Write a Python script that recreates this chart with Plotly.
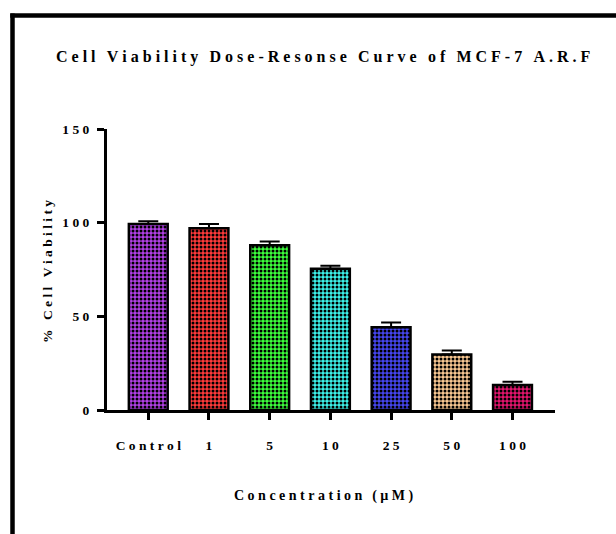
import plotly.graph_objects as go

# Dose-response data (% viability, mean and SD)
concentrations = ["Control", "1", "5", "10", "25", "50", "100"]
viability = [99.3, 97.0, 87.9, 75.4, 44.2, 29.6, 13.4]
viability_sd = [1.4, 2.3, 2.0, 1.6, 2.5, 2.1, 1.7]
bar_colors = ["#B240E6", "#FF3A3A", "#3CFF3C", "#3CF2EA", "#4646F0", "#F9C892", "#E5146E"]
y_ticks = [0, 50, 100, 150]

title_text = "Cell Viability Dose-Resonse Curve of MCF-7 A.R.F"
x_title_text = "Concentration (\u00b5M)"
y_title_text = "% Cell Viability"

LETTER_GAP = "\u00a0"
WORD_GAP = "\u00a0\u00a0\u2009"


def spaced(text, gap=LETTER_GAP, word_gap=WORD_GAP):
    """Widen the tracking of a label by putting fixed spaces between glyphs."""
    words = text.split(" ")
    return word_gap.join(gap.join(w) for w in words)


W, H = 616, 534
ML, MR, MT, MB = 107, 61, 129, 124
PW, PH = W - ML - MR, H - MT - MB


def px_x(px):
    return (px - ML) / PW


def px_y(py):
    return (H - MB - py) / PH


font_family = "Liberation Serif"

fig = go.Figure()
# Checkered bars: black dots over each bar's own background colour
fig.add_trace(go.Bar(
    x=list(range(len(concentrations))),
    y=viability,
    width=0.64,
    marker=dict(
        color="black",
        line=dict(color="black", width=2.5),
        pattern=dict(shape=".", fgcolor="black", fgopacity=1, bgcolor=bar_colors,
                     size=4, solidity=0.45, fillmode="replace"),
    ),
    error_y=dict(type="data", array=viability_sd,
                 arrayminus=[0] * len(viability_sd), symmetric=False,
                 color="black", thickness=2, width=10),
    showlegend=False,
))

tick_font = dict(family=font_family, size=13.5, weight="bold")

fig.update_layout(
    width=W, height=H,
    margin=dict(l=ML, r=MR, t=MT, b=MB, autoexpand=False),
    paper_bgcolor="white", plot_bgcolor="white",
    font=dict(family=font_family, color="black", size=13, weight="bold"),
    xaxis=dict(
        range=[-0.68, 6.7],
        tickmode="array",
        tickvals=list(range(len(concentrations))),
        ticktext=[spaced(c) for c in concentrations],
        showline=True, linecolor="black", linewidth=3,
        ticks="outside", ticklen=7, tickwidth=3, tickcolor="black",
        ticklabelstandoff=14,
        showgrid=False, zeroline=False,
        tickfont=tick_font,
        fixedrange=True,
    ),
    yaxis=dict(
        range=[0, 150],
        tickmode="array",
        tickvals=y_ticks,
        ticktext=[spaced(str(v)) for v in y_ticks],
        showline=True, linecolor="black", linewidth=3,
        ticks="outside", ticklen=7, tickwidth=3, tickcolor="black",
        ticklabelstandoff=5,
        showgrid=False, zeroline=False,
        tickfont=tick_font,
        fixedrange=True,
    ),
    annotations=[
        dict(text=spaced(title_text), xref="paper", yref="paper",
             x=px_x(323), y=px_y(57), xanchor="center", yanchor="middle",
             showarrow=False, font=dict(size=16, family=font_family, weight="bold")),
        dict(text=spaced(x_title_text), xref="paper", yref="paper",
             x=px_x(324), y=px_y(496), xanchor="center", yanchor="middle",
             showarrow=False, font=dict(size=14, family=font_family, weight="bold")),
        dict(text=spaced(y_title_text), xref="paper", yref="paper",
             x=px_x(47), y=px_y(272), xanchor="center", yanchor="middle",
             textangle=-90,
             showarrow=False, font=dict(size=13.5, family=font_family, weight="bold")),
    ],
    shapes=[
        # outer frame: left and top edges
        dict(type="line", xref="paper", yref="paper", layer="above",
             x0=px_x(12.5), x1=px_x(12.5), y0=px_y(13.5), y1=px_y(540),
             line=dict(color="black", width=4.5)),
        dict(type="line", xref="paper", yref="paper", layer="above",
             x0=px_x(10.25), x1=px_x(620), y0=px_y(15.5), y1=px_y(15.5),
             line=dict(color="black", width=4.5)),
    ],
)

fig.write_html("out.html")
